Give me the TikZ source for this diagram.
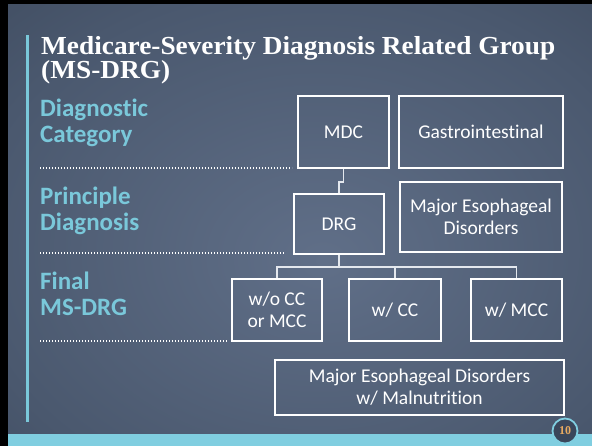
\documentclass[tikz,border=0pt]{standalone}
\usepackage{fontspec}
\setmainfont{Carlito}[Ligatures={NoCommon,NoContextual}]
\newfontfamily\titlefont{Liberation Serif}
\usetikzlibrary{calc}

\definecolor{bgc}{RGB}{96,111,136}
\definecolor{bgm}{RGB}{74,88,110}
\definecolor{bge}{RGB}{46,56,72}
\definecolor{accent}{RGB}{128,206,224}
\definecolor{lblblue}{RGB}{122,200,218}
\definecolor{wirecol}{RGB}{228,232,238}
\definecolor{pgdark}{RGB}{58,70,90}
\definecolor{pgnum}{RGB}{232,170,96}

\pgfdeclareradialshading{slidebg}{\pgfpoint{2bp}{-4bp}}{%
  color(0bp)=(bgc); color(30bp)=(bgm); color(62bp)=(bge); color(75bp)=(bge)}

\newcommand\boxfont{\fontsize{19.5}{22}\selectfont}
\newcommand\lblfont{\bfseries\fontsize{25}{26}\selectfont}
\newcommand\headfont{\titlefont\bfseries\fontsize{26}{24}\selectfont}

\newlength\headw

\begin{document}
\settowidth\headw{\headfont Medicare-Severity Diagnosis Related Group}%
\pgfmathsetmacro\headsx{514/\headw}%
\begin{tikzpicture}[x=1pt,y=-1pt,
  box/.style={draw=white, line width=2pt, inner sep=2pt, align=center,
    text=white, font=\boxfont},
  lbl/.style={anchor=base west, inner sep=0pt, text=lblblue, font=\lblfont},
  head/.style={anchor=base west, inner sep=0pt, text=white, font=\headfont},
  wire/.style={draw=wirecol, line width=1.4pt},
  sepline/.style={draw=white, line width=1.2pt, dash pattern=on 1.2pt off 1.8pt}]

% frame and background
\useasboundingbox (0,0) rectangle (592,446);
\fill[black] (0,0) rectangle (592,446);
\shade[shading=slidebg] (8,5) rectangle (592,446);
\fill[accent] (8,434) rectangle (592,446);
\fill[lblblue] (26,35) rectangle (28.5,422);

% heading
\node[head] (title1) at (41,55) {\scalebox{\headsx}[1]{Medicare-Severity Diagnosis Related Group}};
\node[head] (title2) at (41,79) {\scalebox{\headsx}[1]{(MS-DRG)}};

% level labels
\node[lbl] (lab1a) at (40,117) {Diagnostic};
\node[lbl] (lab1b) at (40,143) {Category};
\node[lbl] (lab2a) at (40,205) {Principle};
\node[lbl] (lab2b) at (40,231) {Diagnosis};
\node[lbl] (lab3a) at (40,290) {Final};
\node[lbl] (lab3b) at (40,316) {MS-DRG};

% dotted level separators
\coordinate (s1a) at (40,168);  \coordinate (s1b) at (292,168);
\coordinate (s2a) at (40,253);  \coordinate (s2b) at (284,253);
\coordinate (s3a) at (40,341);  \coordinate (s3b) at (228,341);
\draw[sepline] (s1a) -- (s1b);
\draw[sepline] (s2a) -- (s2b);
\draw[sepline] (s3a) -- (s3b);

% boxes
\node[box, minimum width=91pt, minimum height=72pt] (mdc) at (343.5,132) {MDC};
\node[box, minimum width=164pt, minimum height=72pt] (gastro) at (481,132) {Gastrointestinal};
\node[box, minimum width=90pt, minimum height=60pt] (drg) at (339,224) {DRG};
\node[box, minimum width=162pt, minimum height=70pt] (med) at (481,217) {Major Esophageal\\Disorders};
\node[box, minimum width=90pt, minimum height=62pt] (wo) at (277,310) {w/o CC\\or MCC};
\node[box, minimum width=92pt, minimum height=62pt] (wcc) at (395,310) {w/ CC};
\node[box, minimum width=91pt, minimum height=62pt] (wmcc) at (516.5,310) {w/ MCC};
\node[box, minimum width=289pt, minimum height=55pt] (mal) at (419.5,387.5) {Major Esophageal Disorders\\w/ Malnutrition};

% connectors
\draw[wire] (mdc.south) -- ++(0,13) -| (drg.north);
\draw[wire] (drg.south) -- ++(0,12) coordinate (bj);
\draw[wire] (wo.north) |- (bj) -| (wmcc.north);
\draw[wire] (wcc.north) -- (wcc.north |- bj);

% page number
\node[circle, draw=accent, line width=1.8pt, fill=pgdark, minimum size=25pt,
  inner sep=0pt, text=pgnum, font=\titlefont\bfseries\fontsize{12}{12}\selectfont]
  (pg) at (565,431) {10};
\end{tikzpicture}
\end{document}
